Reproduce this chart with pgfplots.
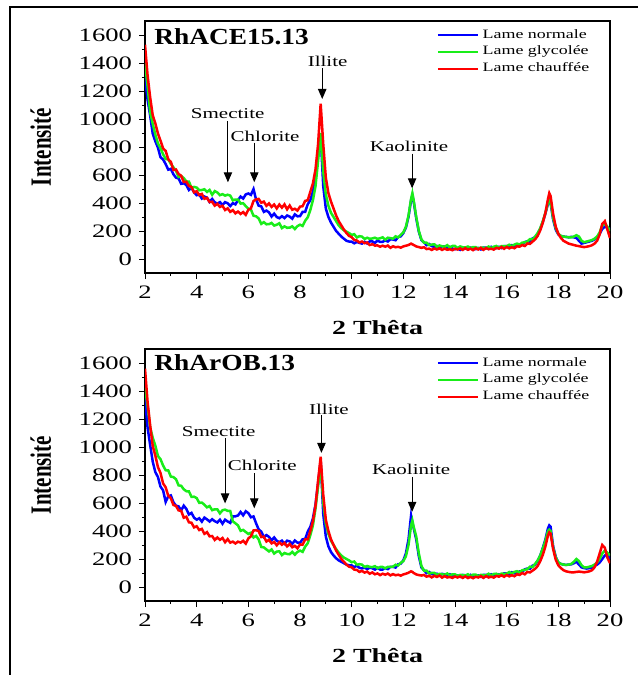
\documentclass[border=0pt]{standalone}
\usepackage{pgfplots}
\pgfplotsset{compat=1.18}
\usepackage{pgfplotstable}
\usepackage{graphicx}
\usepackage{fontspec}
\usetikzlibrary{arrows.meta}
\setmainfont{Liberation Serif}[FakeStretch=1.4]
\newfontfamily\plainserif{Liberation Serif}

\definecolor{xrdblue}{rgb}{0,0,1}
\definecolor{xrdgreen}{rgb}{0.1,0.93,0.1}
\definecolor{xrdred}{rgb}{1,0,0}

% RhACE15.13 : r = chauffee, g = glycolee, b = normale
\pgfplotstableread{
x r g b
2.0 1530 1400 1300
2.1 1312 1233 1138
2.2 1154 1049 1024
2.3 1026 965 895
2.4 969 890 841
2.5 897 826 796
2.6 845 793 727
2.7 790 748 711
2.8 772 714 678
2.9 712 713 638
3.0 694 679 644
3.1 636 655 605
3.2 639 630 581
3.3 607 586 576
3.4 595 593 537
3.5 550 578 541
3.6 552 554 528
3.7 522 553 493
3.8 514 509 509
3.9 476 515 475
4.0 484 510 456
4.1 457 491 461
4.2 465 493 432
4.3 430 498 446
4.4 437 479 438
4.5 407 493 408
4.6 409 459 429
4.7 381 485 405
4.8 394 475 396
4.9 372 456 406
5.0 380 463 387
5.1 350 453 406
5.2 362 459 398
5.3 337 453 378
5.4 349 419 399
5.5 326 425 390
5.6 339 425 421
5.7 322 396 446
5.8 335 398 432
5.9 315 378 461
6.0 352 359 468
6.1 362 353 458
6.2 414 309 499
6.3 426 305 425
6.4 429 290 381
6.5 402 251 376
6.6 410 263 337
6.7 380 248 346
6.8 397 249 333
6.9 372 258 303
7.0 389 239 324
7.1 361 245 300
7.2 389 255 291
7.3 367 221 306
7.4 390 233 292
7.5 355 223 311
7.6 382 224 303
7.7 352 233 288
7.8 359 214 319
7.9 346 235 305
8.0 374 245 306
8.1 377 236 336
8.2 415 273 337
8.3 420 298 391
8.4 480 350 420
8.5 540 420 480
8.6 640 520 580
8.7 820 700 740
8.8 1110 900 880
8.9 820 620 520
9.0 580 460 360
9.1 470 380 300
9.2 410 330 260
9.3 360 300 230
9.4 310 270 200
9.5 270 240 180
9.6 240 220 160
9.7 210 205 145
9.8 185 195 130
9.9 165 185 125
10.0 156 172 124
10.1 136 177 112
10.2 132 154 122
10.3 118 163 115
10.4 125 160 110
10.5 113 143 123
10.6 118 152 111
10.7 100 144 126
10.8 106 147 126
10.9 96 152 114
11.0 97 144 132
11.1 88 148 122
11.2 95 155 123
11.3 88 138 133
11.4 96 152 125
11.5 80 149 141
11.6 91 145 139
11.7 84 162 134
11.8 87 154 157
11.9 81 173 162
12.0 90 190 185
12.1 95 230 225
12.2 100 310 300
12.3 110 430 420
12.35 105 470 455
12.4 100 420 410
12.5 90 300 290
12.6 85 200 195
12.7 80 140 135
12.8 84 117 119
12.9 71 117 99
13.0 74 99 107
13.1 65 103 92
13.2 75 105 87
13.3 68 88 93
13.4 76 97 81
13.5 65 91 91
13.6 74 87 89
13.7 66 99 76
13.8 70 82 87
13.9 63 93 75
14.0 73 93 70
14.1 68 78 75
14.2 76 90 65
14.3 65 84 78
14.4 78 82 76
14.5 66 89 68
14.6 74 79 81
14.7 63 85 72
14.8 77 85 70
14.9 68 75 79
15.0 80 82 68
15.1 65 81 82
15.2 78 77 82
15.3 70 89 72
15.4 74 78 87
15.5 67 88 77
15.6 80 93 77
15.7 74 79 87
15.8 86 92 78
15.9 73 91 92
16.0 86 92 92
16.1 76 102 84
16.2 84 92 99
16.3 77 103 92
16.4 91 110 93
16.5 88 103 105
16.6 100 117 101
16.7 93 119 121
16.8 111 125 126
16.9 108 142 124
17.0 124 139 147
17.1 140 160 155
17.2 165 185 180
17.3 205 220 215
17.4 260 270 265
17.5 330 330 325
17.6 430 400 395
17.65 470 420 420
17.7 450 410 400
17.8 320 290 280
17.9 230 220 210
18.0 180 180 175
18.1 150 165 165
18.2 130 160 160
18.3 120 158 158
18.4 110 155 155
18.5 105 155 158
18.6 100 160 155
18.7 95 170 150
18.8 92 160 130
18.9 88 130 110
19.0 85 120 115
19.1 88 125 120
19.2 92 130 125
19.3 98 135 130
19.4 110 145 140
19.5 130 160 155
19.6 175 190 180
19.7 250 240 215
19.8 270 255 230
19.9 210 230 225
20.0 150 200 215
}\ace

% RhArOB.13
\pgfplotstableread{
x r g b
2.0 1560 1430 1350
2.1 1322 1293 1138
2.2 1154 1139 1014
2.3 1006 1065 895
2.4 939 1010 821
2.5 857 936 786
2.6 815 913 717
2.7 740 868 691
2.8 712 834 608
2.9 652 833 648
3.0 634 789 654
3.1 586 785 605
3.2 579 770 581
3.3 547 726 576
3.4 545 723 547
3.5 495 698 581
3.6 502 684 558
3.7 462 683 518
3.8 459 644 529
3.9 426 645 495
4.0 434 635 481
4.1 407 601 491
4.2 415 603 467
4.3 380 588 496
4.4 392 569 483
4.5 362 578 468
4.6 364 549 484
4.7 336 555 470
4.8 354 555 461
4.9 337 526 481
5.0 350 548 452
5.1 320 553 481
5.2 342 544 468
5.3 317 543 458
5.4 324 469 504
5.5 311 455 505
5.6 324 440 511
5.7 317 401 536
5.8 330 408 512
5.9 310 393 541
6.0 347 379 528
6.1 362 388 498
6.2 404 354 504
6.3 406 365 455
6.4 399 340 411
6.5 357 286 396
6.6 360 283 357
6.7 325 268 371
6.8 337 254 358
6.9 312 268 333
7.0 322 239 354
7.1 298 253 330
7.2 319 255 321
7.3 302 228 331
7.4 315 243 309
7.5 290 236 331
7.6 307 234 326
7.7 284 251 308
7.8 294 231 332
7.9 276 250 317
8.0 304 260 316
8.1 302 251 341
8.2 340 288 342
8.3 340 313 396
8.4 400 370 430
8.5 470 440 490
8.6 580 560 590
8.7 760 720 740
8.8 930 880 900
8.9 660 600 520
9.0 480 450 360
9.1 400 380 290
9.2 340 330 250
9.3 300 300 225
9.4 260 270 205
9.5 230 245 190
9.6 200 225 180
9.7 180 210 170
9.8 160 200 160
9.9 145 190 155
10.0 141 177 154
10.1 124 182 142
10.2 122 159 152
10.3 108 163 137
10.4 115 160 133
10.5 103 143 138
10.6 110 150 128
10.7 95 144 138
10.8 104 142 134
10.9 91 149 124
11.0 97 134 137
11.1 85 143 125
11.2 95 143 125
11.3 88 133 135
11.4 96 144 128
11.5 83 144 144
11.6 92 145 144
11.7 84 159 139
11.8 88 154 162
11.9 81 173 167
12.0 90 185 190
12.1 95 220 240
12.2 102 300 340
12.3 112 440 510
12.35 108 475 460
12.4 100 430 420
12.5 90 360 340
12.6 85 240 220
12.7 82 150 140
12.8 86 117 119
12.9 74 117 99
13.0 80 96 107
13.1 69 101 93
13.2 80 101 89
13.3 72 87 95
13.4 82 94 83
13.5 67 91 94
13.6 78 87 90
13.7 68 97 79
13.8 72 82 91
13.9 65 91 79
14.0 75 91 75
14.1 68 79 83
14.2 76 87 73
14.3 65 85 86
14.4 76 82 84
14.5 64 91 74
14.6 72 78 87
14.7 63 88 78
14.8 73 89 75
14.9 68 77 83
15.0 78 87 73
15.1 65 85 87
15.2 78 83 86
15.3 68 95 77
15.4 74 82 91
15.5 67 93 82
15.6 79 95 81
15.7 74 85 91
15.8 84 96 83
15.9 73 94 98
16.0 86 95 98
16.1 76 107 90
16.2 84 96 105
16.3 77 108 97
16.4 91 113 99
16.5 86 105 111
16.6 100 120 107
16.7 91 123 126
16.8 108 127 132
16.9 104 145 130
17.0 117 142 152
17.1 130 165 160
17.2 150 190 185
17.3 185 225 225
17.4 230 275 280
17.5 290 330 340
17.6 370 400 420
17.65 390 410 440
17.7 380 400 430
17.8 270 280 290
17.9 195 210 215
18.0 155 175 175
18.1 135 165 165
18.2 120 160 160
18.3 112 158 158
18.4 108 160 160
18.5 105 165 162
18.6 105 180 170
18.7 108 200 180
18.8 110 185 160
18.9 108 155 140
19.0 105 140 135
19.1 108 140 132
19.2 112 145 135
19.3 120 150 140
19.4 140 160 150
19.5 180 175 160
19.6 240 200 175
19.7 300 240 200
19.8 280 260 225
19.9 210 245 230
20.0 170 225 200
}\arob

\pgfplotsset{
  xrd/.style={
    scale only axis, width=232.5pt, height=126pt,
    xmin=2, xmax=20, ymin=-100, ymax=1700,
    xtick={2,4,...,20}, ytick={0,200,...,1600},
    minor x tick num=1, minor y tick num=1,
    tick align=outside, tick pos=left,
    major tick length=3pt, minor tick length=1.6pt,
    every tick/.style={black, line width=0.5pt},
    axis line style={line width=0.6pt},
    /pgf/number format/1000 sep={},
    /pgf/number format/assume math mode=true,
    tick label style={font=\fontsize{9.5}{10}\selectfont},
    xlabel={2 Thêta},
    ylabel={\plainserif\bfseries\scalebox{1}[1.4]{Intensité}},
    xlabel style={font=\bfseries\fontsize{10}{12}\selectfont, at={(axis description cs:0.5,-0.218)}, anchor=center},
    ylabel style={font=\fontsize{10.5}{12}\selectfont, at={(axis description cs:-0.224,0.5)}, anchor=center},
    legend style={at={(axis description cs:0.965,0.985)}, anchor=north east, draw=none, fill=none,
      font=\fontsize{6.4}{7}\selectfont, row sep=-1.5pt, inner sep=0pt},
    legend cell align=left,
    legend image code/.code={\draw[#1, line width=0.9pt] (0pt,0pt) -- (20pt,0pt);},
  },
  curve/.style={line width=1.25pt},
}
\tikzset{
  lab/.style={font=\fontsize{7.5}{8}\selectfont},
  arr/.style={-{Triangle[length=5pt,width=4.2pt]}, line width=0.5pt},
  ttl/.style={anchor=west, inner sep=0pt, font=\plainserif\bfseries\fontsize{11.5}{13}\selectfont},
}

\begin{document}
\begin{tikzpicture}
\useasboundingbox (0,0) rectangle (319pt,-337.5pt);
\draw[line width=1pt] (5pt,-337.5pt) -- (5pt,-3.5pt) -- (319pt,-3.5pt);

\begin{axis}[xrd, at={(72.5pt,-136.5pt)}, anchor=south west]
\addplot[curve, xrdblue] table[x=x, y=b] {\ace};
\addplot[curve, xrdgreen] table[x=x, y=g] {\ace};
\addplot[curve, xrdred] table[x=x, y=r] {\ace};
\addlegendentry{Lame normale}
\addlegendentry{Lame glycolée}
\addlegendentry{Lame chauffée}
\node[ttl] at (axis cs:2.35,1590) {\scalebox{1.19}[1]{RhACE15.13}};
\node[lab] at (axis cs:5.2,1038) {Smectite};
\draw[arr] (axis cs:5.21,985) -- (axis cs:5.21,548);
\node[lab] at (axis cs:6.65,875) {Chlorite};
\draw[arr] (axis cs:6.23,832) -- (axis cs:6.23,548);
\node[lab] at (axis cs:9.07,1410) {Illite};
\draw[arr] (axis cs:8.86,1366) -- (axis cs:8.86,1143);
\node[lab] at (axis cs:12.22,804) {Kaolinite};
\draw[arr] (axis cs:12.34,753) -- (axis cs:12.34,505);
\end{axis}

\begin{axis}[xrd, at={(72.5pt,-300.5pt)}, anchor=south west]
\addplot[curve, xrdblue] table[x=x, y=b] {\arob};
\addplot[curve, xrdgreen] table[x=x, y=g] {\arob};
\addplot[curve, xrdred] table[x=x, y=r] {\arob};
\addlegendentry{Lame normale}
\addlegendentry{Lame glycolée}
\addlegendentry{Lame chauffée}
\node[ttl] at (axis cs:2.35,1600) {\scalebox{1.19}[1]{RhArOB.13}};
\node[lab] at (axis cs:4.85,1109) {Smectite};
\draw[arr] (axis cs:5.1,1064) -- (axis cs:5.1,597);
\node[lab] at (axis cs:6.54,866) {Chlorite};
\draw[arr] (axis cs:6.23,813) -- (axis cs:6.23,562);
\node[lab] at (axis cs:9.12,1271) {Illite};
\draw[arr] (axis cs:8.83,1228) -- (axis cs:8.83,958);
\node[lab] at (axis cs:12.3,842) {Kaolinite};
\draw[arr] (axis cs:12.34,787) -- (axis cs:12.34,537);
\end{axis}
\end{tikzpicture}
\end{document}
